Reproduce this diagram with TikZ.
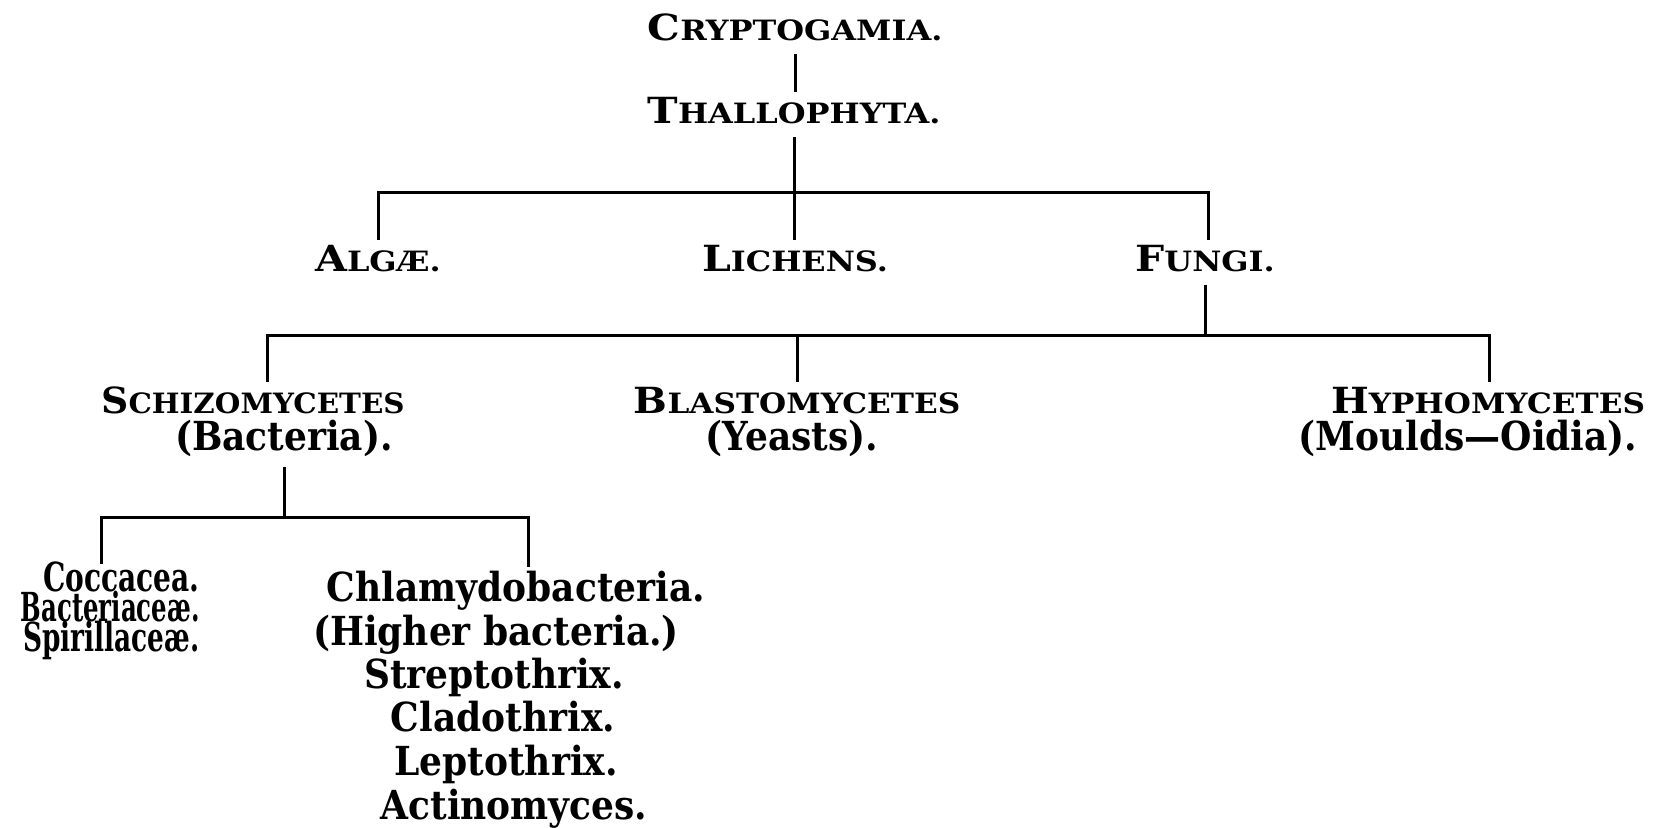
\documentclass[tikz,border=0pt]{standalone}
\usepackage{graphicx}
\usepackage{fontspec}
\setmainfont{DejaVu Serif}
\newfontfamily\ttlfont{DejaVu Serif}[FakeStretch=1.14]
\newfontfamily\bodyfont{DejaVu Serif}[FakeStretch=0.9]
\newfontfamily\condfont{DejaVu Serif}[FakeStretch=0.61]
\newcommand\mysc[2]{{\fontsize{18}{20}\selectfont #1}{\fontsize{14}{16}\selectfont #2}}
\tikzset{
  ttl/.style={font=\ttlfont\bfseries, anchor=base, inner xsep=0pt, inner ysep=3pt,
    text height=13pt, text depth=3.5pt},
  bodytxt/.style={font=\bodyfont\bfseries\fontsize{20}{23}\selectfont, anchor=base,
    inner xsep=0pt, inner ysep=3pt, text height=14.5pt, text depth=5pt},
  condtxt/.style={font=\condfont\bfseries\fontsize{20}{22}\selectfont, anchor=base east,
    inner xsep=0pt, inner ysep=0pt, text height=14pt, text depth=0pt},
  conn/.style={line width=1.5pt, line join=miter}
}
\begin{document}
\begin{tikzpicture}[x=0.5pt,y=-0.5pt]
\path[fill=white,use as bounding box] (0,0) rectangle (1656,828);
% level 0-1
\node[ttl] (cryp) at (795,41) {\mysc{C}{RYPTOGAMIA.}};
\node[ttl] (thal) at (794,124) {\mysc{T}{HALLOPHYTA.}};
% level 2
\node[ttl] (alg) at (378,272) {\mysc{A}{LGÆ.}};
\node[ttl] (lic) at (795,272) {\mysc{L}{ICHENS.}};
\node[ttl] (fun) at (1205,272) {\mysc{F}{UNGI.}};
% level 3
\node[ttl] (schizo) at (253,414) {\scalebox{0.92}[1]{\mysc{S}{CHIZOMYCETES}}};
\node[bodytxt] (bact) at (284,451) {(Bacteria).};
\node[ttl] (blasto) at (797,414) {\scalebox{0.975}[1]{\mysc{B}{LASTOMYCETES}}};
\node[bodytxt] (yeast) at (792,451) {(Yeasts).};
\node[ttl] (hypho) at (1488,414) {\scalebox{0.975}[1]{\mysc{H}{YPHOMYCETES}}};
\node[bodytxt] (mould) at (1468,451) {(Moulds—Oidia).};
% level 4 left
\node[condtxt] (cocc) at (200,592) {\scalebox{1.15}[1]{Coccacea.}};
\node[condtxt] (bacc) at (200,622) {Bacteriaceæ.};
\node[condtxt] (spir) at (200,652) {\scalebox{1.08}[1]{Spirillaceæ.}};
% level 4 right
\node[bodytxt] (chlam) at (516,602) {Chlamydobacteria.};
\node[bodytxt] (higher) at (496,646) {(Higher bacteria.)};
\node[bodytxt] (strep) at (494,689) {Streptothrix.};
\node[bodytxt] (clado) at (503,732) {Cladothrix.};
\node[bodytxt] (lepto) at (506,775) {Leptothrix.};
\node[bodytxt] (actino) at (514,819) {Actinomyces.};
% junction coordinates
\coordinate (b1l) at (378,193);
\coordinate (b1r) at (1208,193);
\coordinate (b2l) at (267,336);
\coordinate (b2r) at (1489,336);
\coordinate (b3l) at (101,518);
\coordinate (b3r) at (528,518);
% connectors
\draw[conn] (cryp.south) -- (cryp.south |- thal.north);
\draw[conn] (thal.south) -- (thal.south |- lic.north);
\draw[conn] (b1l |- alg.north) -- (b1l) -- (b1r) -- (b1r |- fun.north);
\draw[conn] (fun.south) -- (fun.south |- b2l);
\draw[conn] (b2l |- schizo.north) -- (b2l) -- (b2r) -- (b2r |- hypho.north);
\draw[conn] (blasto.north |- b2l) -- (blasto.north);
\draw[conn] (bact.south) -- (bact.south |- b3l);
\draw[conn] (b3l |- cocc.north) -- (b3l) -- (b3r) -- (b3r |- chlam.north);
\end{tikzpicture}
\end{document}
